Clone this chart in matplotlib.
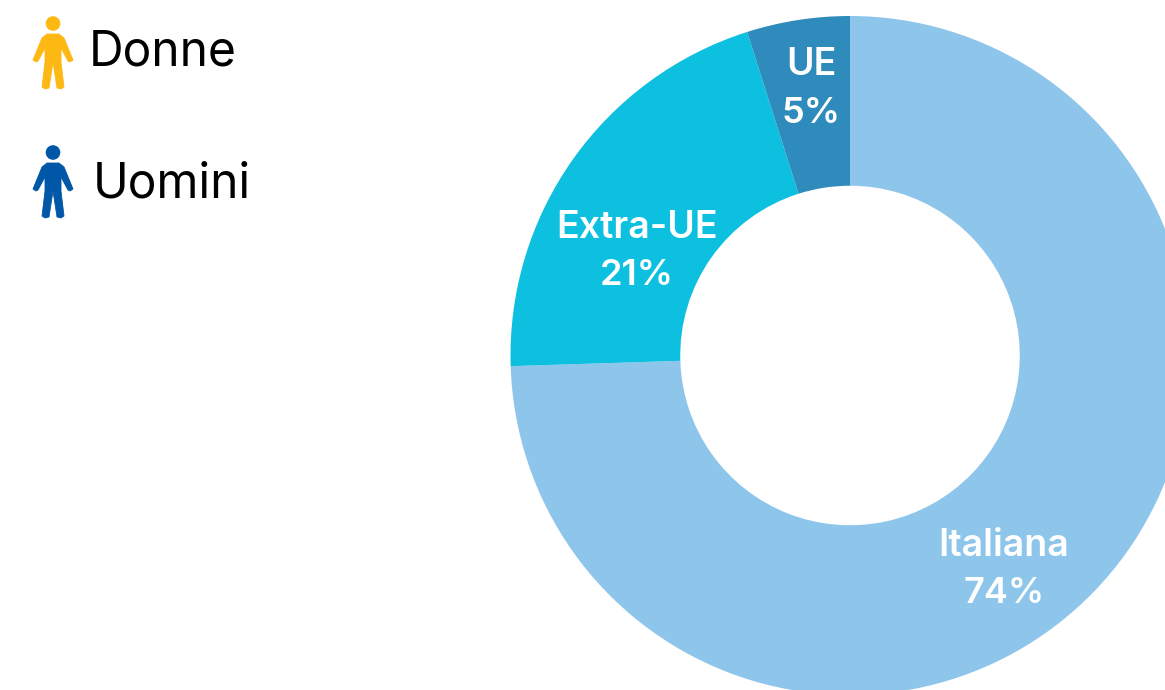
import matplotlib.pyplot as plt
from matplotlib.path import Path
from matplotlib.patches import PathPatch, Circle

W, H = 1165, 690

# quote di cittadinanza, in senso orario da ore 12
categories = ["Italiana", "Extra-UE", "UE"]
values = [74.5, 20.6, 4.9]
value_labels = ["74%", "21%", "5%"]
colors = ["#8EC5EA", "#0DC0E0", "#2E8BBB"]

legend_labels = ["Donne", "Uomini"]
legend_colors = ["#FDB813", "#0057A8"]

plt.rcParams["font.family"] = ["Inter", "DejaVu Sans"]

fig = plt.figure(figsize=(W / 100, H / 100), dpi=100)

# anello: centro (850, 355.5), raggio 339.5 px, tagliato dal bordo
ax = fig.add_axes([510.5 / W, (H - 695) / H, 679 / W, 679 / H])
ax.pie(values, colors=colors, startangle=90, counterclock=False, radius=1,
       wedgeprops=dict(width=0.5, linewidth=0))
ax.set_xlim(-1, 1)
ax.set_ylim(-1, 1)
ax.set_axis_off()

# livello in pixel per testi e icone
over = fig.add_axes([0, 0, 1, 1])
over.set_xlim(0, W)
over.set_ylim(H, 0)
over.set_axis_off()
over.patch.set_alpha(0)

label_pos = {"Italiana": (1004, 542, 590), "Extra-UE": (637, 224, 272), "UE": (811, 61, 110)}
for cat, val in zip(categories, value_labels):
    x, y1, y2 = label_pos[cat]
    over.text(x, y1, cat, color="white", fontsize=27, fontweight="semibold", ha="center", va="center_baseline")
    over.text(x, y2, val, color="white", fontsize=26, fontweight="semibold", ha="center", va="center_baseline")

# sagoma della persona, in px rispetto al centro e alla cima della testa
body = [(-6, 18), (6, 18), (11, 22), (20, 44), (17, 46), (15, 45), (8, 32), (8, 46), (11, 71), (8, 73),
        (4, 72), (0, 46), (-4, 72), (-8, 73), (-11, 71), (-8, 46), (-8, 32), (-15, 45), (-17, 46), (-20, 44),
        (-11, 22), (-6, 18)]


def draw_person(cx, top, color):
    over.add_patch(Circle((cx, top + 7.5), 7.3, color=color, lw=0))
    pts = [(cx + px, top + py) for px, py in body]
    codes = [Path.MOVETO] + [Path.LINETO] * (len(pts) - 2) + [Path.CLOSEPOLY]
    over.add_patch(PathPatch(Path(pts, codes), facecolor=color, edgecolor=color, lw=0.6, joinstyle="round"))


draw_person(53, 16, legend_colors[0])
draw_person(53, 145, legend_colors[1])

over.text(89, 66, legend_labels[0], color="black", fontsize=34.5, fontweight="normal", ha="left", va="baseline")
over.text(93, 197, legend_labels[1], color="black", fontsize=34.5, fontweight="normal", ha="left", va="baseline")

fig.savefig("out.png", dpi=100)
